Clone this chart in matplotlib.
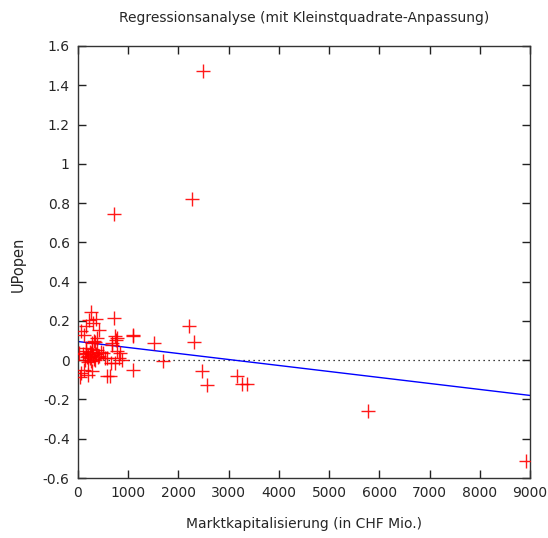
import matplotlib
matplotlib.use("Agg")
import matplotlib.pyplot as plt
import numpy as np

# Data
mcap = [2496, 2265, 717, 265, 352, 219, 717, 305, 153, 418, 54, 120, 750, 385, 319,
        2211, 1102, 771, 2311, 1514, 339, 671, 285, 20, 783, 817, 584, 651, 120, 54,
        285, 584, 737, 1102, 671, 504, 837, 538, 870, 737, 1102, 637, 1700, 2463,
        2577, 3173, 3260, 3373, 5783, 8924, 40, 206, 100, 160, 190, 230, 260, 300,
        330, 370, 400, 450, 200, 250, 150, 310, 350, 180, 420, 280, 240, 130]
upopen = [1.474, 0.819, 0.742, 0.246, 0.212, 0.207, 0.215, 0.190, 0.173, 0.156, 0.151,
          0.130, 0.105, 0.113, 0.096, 0.173, 0.127, 0.113, 0.091, 0.088, 0.091, 0.079,
          0.088, 0.037, 0.045, 0.011, 0.011, -0.014, -0.048, -0.065, -0.057, -0.083,
          0.122, 0.122, 0.088, 0.037, 0.037, 0.011, 0.003, -0.014, -0.048, -0.083,
          -0.006, -0.057, -0.125, -0.079, -0.120, -0.120, -0.258, -0.513, -0.086,
          -0.074, 0.030, 0.045, 0.020, 0.010, 0.035, 0.025, 0.000, 0.050, 0.015,
          0.040, -0.010, -0.005, 0.060, 0.005, 0.030, 0.015, 0.020, 0.055, 0.040, 0.000]

fit_intercept = 0.095
fit_slope = -3.05e-5

xticks = [0, 1000, 2000, 3000, 4000, 5000, 6000, 7000, 8000, 9000]
yticks = [-0.6, -0.4, -0.2, 0, 0.2, 0.4, 0.6, 0.8, 1, 1.2, 1.4, 1.6]
ytick_labels = ["-0.6", "-0.4", "-0.2", "0", "0.2", "0.4", "0.6", "0.8", "1", "1.2", "1.4", "1.6"]

title = "Regressionsanalyse (mit Kleinstquadrate-Anpassung)"
xlabel = "Marktkapitalisierung (in CHF Mio.)"
ylabel = "UPopen"

plt.rcParams['font.family'] = ['DejaVu Sans']
txt = '#262626'

fig = plt.figure(figsize=(5.48, 5.38), dpi=100)
ax = fig.add_axes([78/548, 1 - 478/538, (530 - 78)/548, (478 - 46)/538])

ax.set_xlim(0, 9000)
ax.set_ylim(-0.6, 1.6)

ax.axhline(0, color='black', linestyle=(0, (1, 3)), linewidth=0.9, zorder=1)
xs = np.array([0, 9000])
ax.plot(xs, fit_intercept + fit_slope * xs, color='blue', linewidth=1.0, zorder=2)
ax.plot(mcap, upopen, linestyle='none', marker='+', markersize=10, markeredgewidth=1.0,
        color='red', alpha=0.9, zorder=3)

ax.set_xticks(xticks)
ax.set_xticklabels([str(v) for v in xticks])
ax.set_yticks(yticks)
ax.set_yticklabels(ytick_labels)
ax.tick_params(direction='in', length=6, width=1, top=True, right=True,
               labelsize=10, labelcolor=txt, color='#222222', pad=6)

for s in ax.spines.values():
    s.set_color('#333333')
    s.set_linewidth(1.0)

fig.text((78 + 530) / 2 / 548, 1 - 18/538, title, ha='center', va='center',
         fontsize=10, color=txt)
fig.text((78 + 530) / 2 / 548, 1 - 524/538, xlabel, ha='center', va='center',
         fontsize=10, color=txt)
fig.text(18/548, 1 - 264/538, ylabel, ha='center', va='center', rotation=90,
         fontsize=10.5, color=txt)

fig.savefig('out.png', dpi=100)
